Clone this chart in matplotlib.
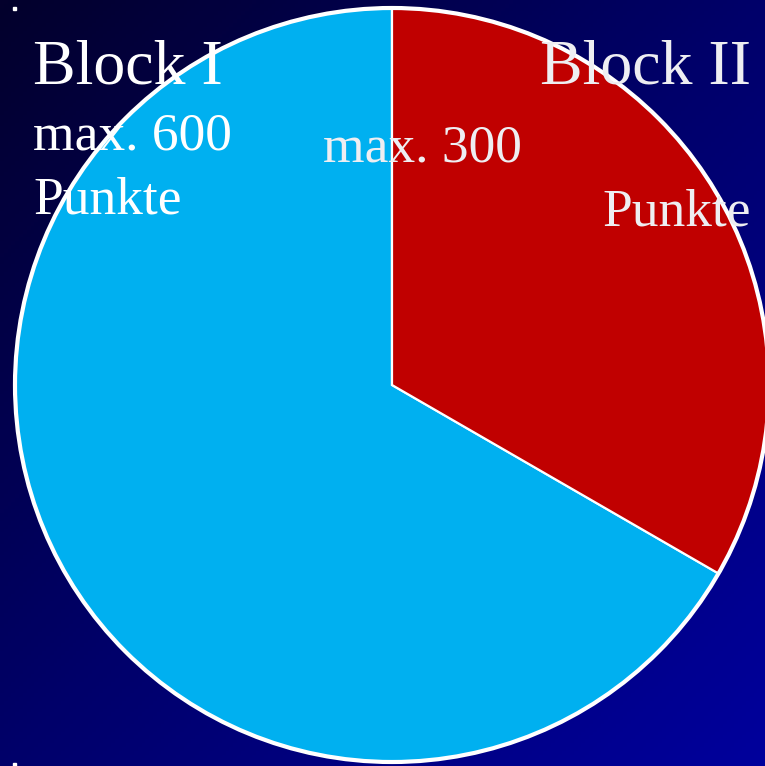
import numpy as np
import matplotlib
matplotlib.use("Agg")
import matplotlib.pyplot as plt
from matplotlib.colors import LinearSegmentedColormap
from matplotlib.patches import Circle, Rectangle

# Data
categories = ["Block I", "Block II"]
values = [600, 300]
colors = ["#00B0F0", "#C00000"]
label_lines = [["Block I", "max. 600", "Punkte"], ["Block II", "max. 300", "Punkte"]]

W, H = 765, 766
fig = plt.figure(figsize=(W / 100, H / 100), dpi=100)
ax = fig.add_axes([0, 0, 1, 1])

# Background gradient (top-left dark -> bottom-right blue); row 0 = top
yy, xx = np.mgrid[0:1:200j, 0:1:200j]
t = (xx + yy) / 2.0
cmap = LinearSegmentedColormap.from_list("bg", ["#03002C", "#00006A", "#00009C"])
ax.imshow(t, cmap=cmap, extent=[0, W, 0, H], origin="upper", zorder=0, aspect="auto")

cx, cy, r = 392, H - 385, 377
wedges, _ = ax.pie(values, colors=colors, startangle=90, counterclock=True,
                   center=(cx, cy), radius=r, frame=True,
                   wedgeprops=dict(edgecolor="white", linewidth=1.6))
for w in wedges:
    w.set_zorder(2)
ax.add_patch(Circle((cx, cy), r, fill=False, edgecolor="white", linewidth=3.0, zorder=3))
ax.set_xlim(0, W)
ax.set_ylim(0, H)
ax.set_aspect("equal")
ax.axis("off")

# small white markers
ax.add_patch(Rectangle((13.5, H - 10), 3, 3, color="white", zorder=4))
ax.add_patch(Rectangle((13.5, H - 766), 3, 3, color="white", zorder=4))

font = "Liberation Serif"
big, small = 46, 38.5
ax.text(33, H - 83, label_lines[0][0], fontsize=big, family=font, color="white", ha="left", va="baseline", zorder=5)
ax.text(33, H - 149, label_lines[0][1], fontsize=small, family=font, color="white", ha="left", va="baseline", zorder=5)
ax.text(33, H - 213, label_lines[0][2], fontsize=small, family=font, color="white", ha="left", va="baseline", zorder=5)

ax.text(751, H - 83, label_lines[1][0], fontsize=big, family=font, color="#EEEEF2", ha="right", va="baseline", zorder=5)
ax.text(323, H - 161, label_lines[1][1], fontsize=small, family=font, color="#EEEEF2", ha="left", va="baseline", zorder=5)
ax.text(751, H - 226, label_lines[1][2], fontsize=small, family=font, color="#EEEEF2", ha="right", va="baseline", zorder=5)

fig.savefig("out.png", dpi=100)
